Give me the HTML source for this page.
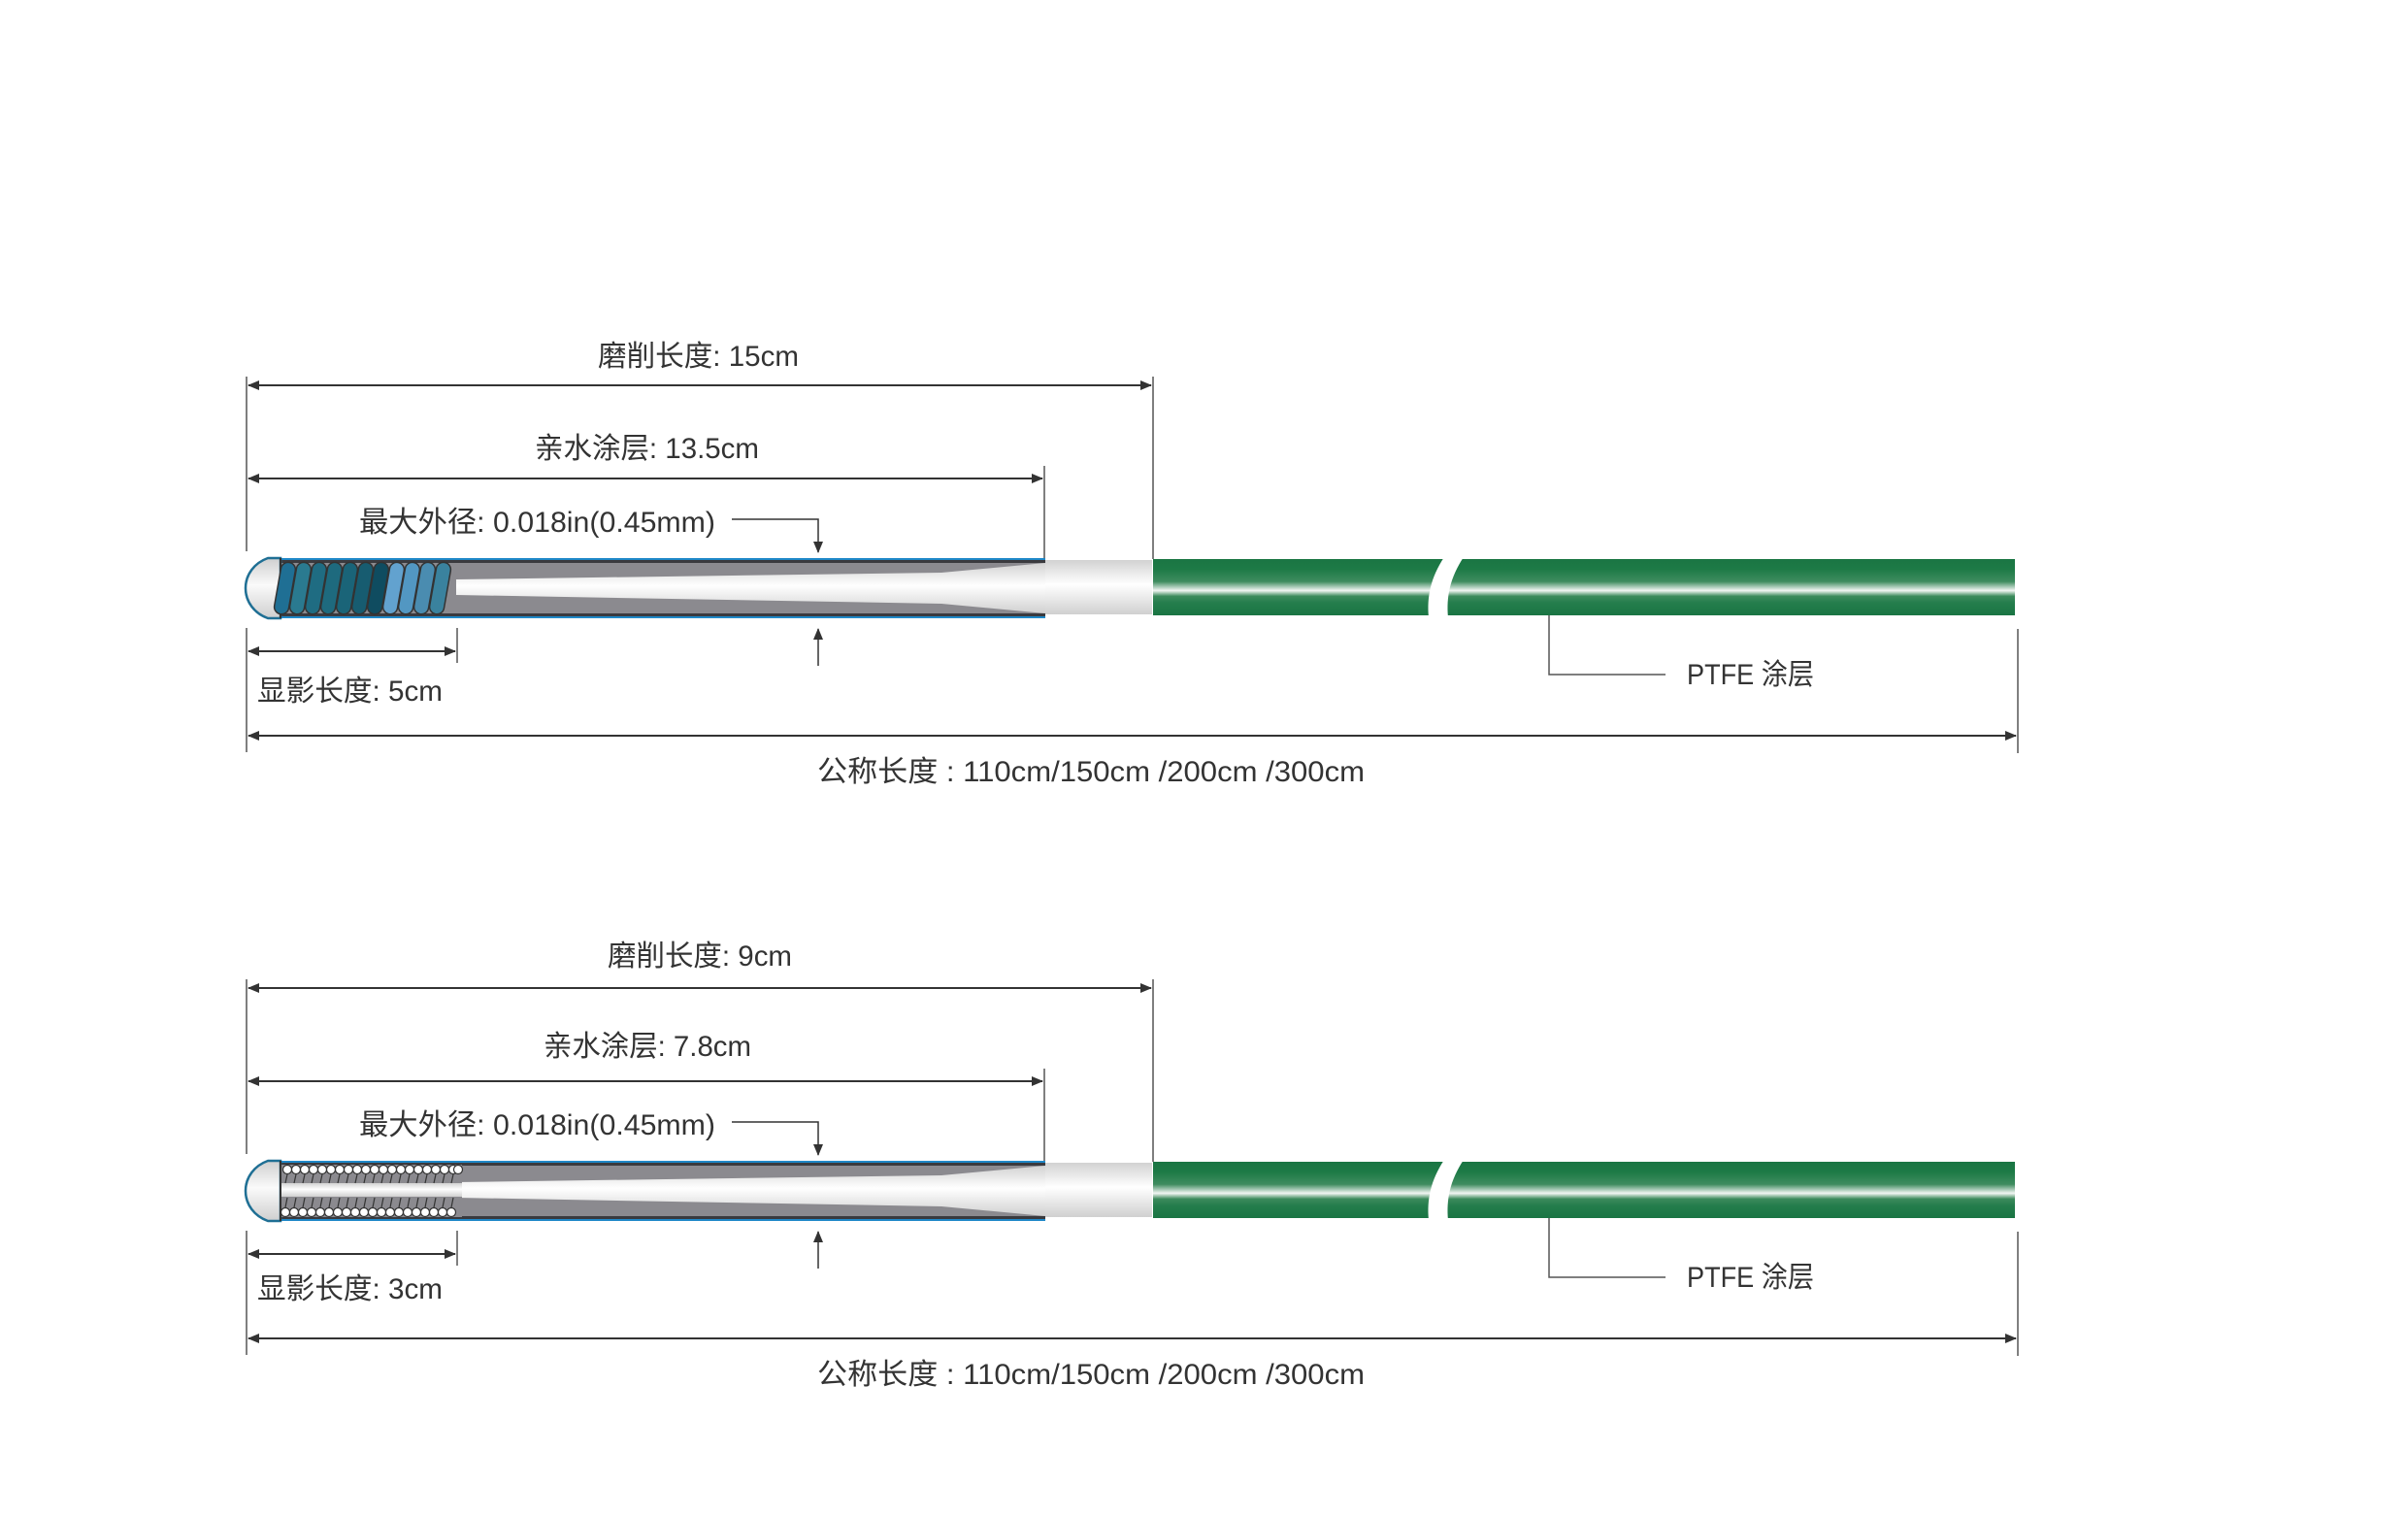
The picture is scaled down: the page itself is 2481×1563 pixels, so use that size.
<!DOCTYPE html>
<html><head><meta charset="utf-8"><style>
html,body{margin:0;padding:0;background:#fff}
svg{display:block}
text{font-family:"Liberation Sans","Noto Sans CJK SC",sans-serif;font-size:30px;fill:#333}
</style></head><body>
<svg width="2481" height="1563" viewBox="0 0 2481 1563" xmlns="http://www.w3.org/2000/svg">
<defs>
<linearGradient id="gr" x1="0" y1="0" x2="0" y2="1">
<stop offset="0" stop-color="#1a7543"/><stop offset="0.18" stop-color="#1d7a46"/>
<stop offset="0.4" stop-color="#3f8c5f"/><stop offset="0.56" stop-color="#f2f6f3"/>
<stop offset="0.66" stop-color="#3c8a5c"/><stop offset="0.78" stop-color="#247d4c"/>
<stop offset="1" stop-color="#1a7543"/></linearGradient>
<linearGradient id="wh" x1="0" y1="0" x2="0" y2="1">
<stop offset="0" stop-color="#d2d2d2"/><stop offset="0.45" stop-color="#ffffff"/>
<stop offset="1" stop-color="#d0d0d0"/></linearGradient>
<linearGradient id="cap" x1="0" y1="0" x2="0" y2="1">
<stop offset="0" stop-color="#cfcfcf"/><stop offset="0.45" stop-color="#fafafa"/>
<stop offset="1" stop-color="#cfcfcf"/></linearGradient>
<marker id="ae" markerWidth="12" markerHeight="10" refX="11" refY="5" orient="auto" markerUnits="userSpaceOnUse"><path d="M0,0 L12,5 L0,10 Z" fill="#333"/></marker>
<marker id="as" markerWidth="12" markerHeight="10" refX="1" refY="5" orient="auto" markerUnits="userSpaceOnUse"><path d="M12,0 L0,5 L12,10 Z" fill="#333"/></marker>

<g id="body">
 <!-- green tube -->
 <rect x="1188" y="576" width="888" height="58" fill="url(#gr)"/>
 <path d="M1488,574 L1508,574 C1494,595 1490,615 1492,636 L1472,636 C1470,615 1474,595 1488,574 Z" fill="#fff"/>
 <!-- white section -->
 <rect x="1070" y="577" width="117" height="56" fill="url(#wh)"/>
 <!-- gray section -->
 <rect x="289" y="575" width="788" height="62" fill="#1f88c8"/>
 <rect x="289" y="577" width="788" height="58" fill="#3a3a3e"/>
 <rect x="289" y="580" width="788" height="52" fill="#8b8a8f"/>
 <path d="M470,597 L970,590 L1077,580 L1077,632 L970,622 L470,613 Z" fill="url(#wh)"/>
 <!-- cap -->
 <path d="M289,575 L276,575 C262,580 253,592 253,606 C253,620 262,632 276,637 L289,637 Z" fill="url(#cap)" stroke="#1f6f94" stroke-width="2.5"/>
 <line x1="289" y1="575" x2="289" y2="637" stroke="#333" stroke-width="2"/>
 <!-- ext lines -->
 <line x1="254" y1="540" x2="254" y2="568" stroke="#555" stroke-width="1.5"/>
 <line x1="1076" y1="480" x2="1076" y2="575" stroke="#555" stroke-width="1.5"/>
 <line x1="1188" y1="388" x2="1188" y2="576" stroke="#555" stroke-width="1.5"/>
 <line x1="254" y1="647" x2="254" y2="775" stroke="#555" stroke-width="1.5"/>
 <line x1="471" y1="647" x2="471" y2="683" stroke="#555" stroke-width="1.5"/>
 <line x1="2079" y1="648" x2="2079" y2="776" stroke="#555" stroke-width="1.5"/>
 <line x1="254" y1="388" x2="254" y2="540" stroke="#555" stroke-width="1.5"/>
 <!-- dimension arrows -->
 <line x1="256" y1="397" x2="1186" y2="397" stroke="#333" stroke-width="2" marker-start="url(#as)" marker-end="url(#ae)"/>
 <line x1="256" y1="493" x2="1074" y2="493" stroke="#333" stroke-width="2" marker-start="url(#as)" marker-end="url(#ae)"/>
 <line x1="256" y1="671" x2="469" y2="671" stroke="#333" stroke-width="2" marker-start="url(#as)" marker-end="url(#ae)"/>
 <line x1="256" y1="758" x2="2077" y2="758" stroke="#333" stroke-width="2" marker-start="url(#as)" marker-end="url(#ae)"/>
 <!-- diameter -->
 <polyline points="754,535 843,535 843,569" fill="none" stroke="#333" stroke-width="1.5" marker-end="url(#ae)"/>
 <line x1="843" y1="686" x2="843" y2="648" stroke="#333" stroke-width="1.5" marker-end="url(#ae)"/>
 <!-- PTFE leader -->
 <polyline points="1596,634 1596,695 1716,695" fill="none" stroke="#555" stroke-width="1.5"/>
 <text x="1738" y="705" textLength="131" lengthAdjust="spacingAndGlyphs">PTFE 涂层</text>
 <text x="370" y="548" textLength="367" lengthAdjust="spacingAndGlyphs">最大外径: 0.018in(0.45mm)</text>
 <text x="842" y="805" textLength="564" lengthAdjust="spacingAndGlyphs">公称长度 : 110cm/150cm /200cm /300cm</text>
</g>
</defs>

<!-- top -->
<use href="#body"/>
<g>
 <g transform="rotate(12 0 0)"></g>
 <g>
  <rect x="286" y="579" width="15" height="54" rx="7.5" fill="#1f6f94" stroke="#333" stroke-width="1.5" transform="rotate(10 293 606)"/>
  <rect x="302" y="579" width="15" height="54" rx="7.5" fill="#2a7a90" stroke="#333" stroke-width="1.5" transform="rotate(10 309 606)"/>
  <rect x="318" y="579" width="15" height="54" rx="7.5" fill="#1f6c82" stroke="#333" stroke-width="1.5" transform="rotate(10 325 606)"/>
  <rect x="334" y="579" width="15" height="54" rx="7.5" fill="#1e6a7e" stroke="#333" stroke-width="1.5" transform="rotate(10 341 606)"/>
  <rect x="350" y="579" width="15" height="54" rx="7.5" fill="#1a6478" stroke="#333" stroke-width="1.5" transform="rotate(10 357 606)"/>
  <rect x="366" y="579" width="15" height="54" rx="7.5" fill="#175c70" stroke="#333" stroke-width="1.5" transform="rotate(10 373 606)"/>
  <rect x="382" y="579" width="15" height="54" rx="7.5" fill="#0f4c60" stroke="#333" stroke-width="1.5" transform="rotate(10 389 606)"/>
  <rect x="398" y="579" width="15" height="54" rx="7.5" fill="#62a2cf" stroke="#333" stroke-width="1.5" transform="rotate(10 405 606)"/>
  <rect x="414" y="579" width="15" height="54" rx="7.5" fill="#5297c2" stroke="#333" stroke-width="1.5" transform="rotate(10 421 606)"/>
  <rect x="430" y="579" width="15" height="54" rx="7.5" fill="#4a8cb0" stroke="#333" stroke-width="1.5" transform="rotate(10 437 606)"/>
  <rect x="446" y="579" width="15" height="54" rx="7.5" fill="#3a829e" stroke="#333" stroke-width="1.5" transform="rotate(10 453 606)"/>
 </g>
</g>
<text x="616" y="377" textLength="207" lengthAdjust="spacingAndGlyphs">磨削长度: 15cm</text>
<text x="551" y="472" textLength="231" lengthAdjust="spacingAndGlyphs">亲水涂层: 13.5cm</text>
<text x="265" y="722" textLength="191" lengthAdjust="spacingAndGlyphs">显影长度: 5cm</text>

<!-- bottom -->
<g transform="translate(0,621)">
 <use href="#body"/>
 <!-- coil of white circles -->
 <rect x="290" y="579" width="186" height="54" fill="#8b8a8f"/>
 <rect x="290" y="598" width="186" height="14" fill="url(#wh)"/>
 <g fill="#fff" stroke="#333" stroke-width="1.2">
  <circle cx="296" cy="584" r="4.5"/><circle cx="305" cy="584" r="4.5"/><circle cx="314" cy="584" r="4.5"/><circle cx="323" cy="584" r="4.5"/><circle cx="332" cy="584" r="4.5"/><circle cx="341" cy="584" r="4.5"/><circle cx="350" cy="584" r="4.5"/><circle cx="359" cy="584" r="4.5"/><circle cx="368" cy="584" r="4.5"/><circle cx="377" cy="584" r="4.5"/><circle cx="386" cy="584" r="4.5"/><circle cx="395" cy="584" r="4.5"/><circle cx="404" cy="584" r="4.5"/><circle cx="413" cy="584" r="4.5"/><circle cx="422" cy="584" r="4.5"/><circle cx="431" cy="584" r="4.5"/><circle cx="440" cy="584" r="4.5"/><circle cx="449" cy="584" r="4.5"/><circle cx="458" cy="584" r="4.5"/><circle cx="467" cy="584" r="4.5"/><circle cx="472" cy="584" r="4.5"/>
  <circle cx="294" cy="628" r="4.5"/><circle cx="303" cy="628" r="4.5"/><circle cx="312" cy="628" r="4.5"/><circle cx="321" cy="628" r="4.5"/><circle cx="330" cy="628" r="4.5"/><circle cx="339" cy="628" r="4.5"/><circle cx="348" cy="628" r="4.5"/><circle cx="357" cy="628" r="4.5"/><circle cx="366" cy="628" r="4.5"/><circle cx="375" cy="628" r="4.5"/><circle cx="384" cy="628" r="4.5"/><circle cx="393" cy="628" r="4.5"/><circle cx="402" cy="628" r="4.5"/><circle cx="411" cy="628" r="4.5"/><circle cx="420" cy="628" r="4.5"/><circle cx="429" cy="628" r="4.5"/><circle cx="438" cy="628" r="4.5"/><circle cx="447" cy="628" r="4.5"/><circle cx="456" cy="628" r="4.5"/><circle cx="465" cy="628" r="4.5"/>
 </g>
 <path d="M296,589 l-2,9 M305,589 l-2,9 M314,589 l-2,9 M323,589 l-2,9 M332,589 l-2,9 M341,589 l-2,9 M350,589 l-2,9 M359,589 l-2,9 M368,589 l-2,9 M377,589 l-2,9 M386,589 l-2,9 M395,589 l-2,9 M404,589 l-2,9 M413,589 l-2,9 M422,589 l-2,9 M431,589 l-2,9 M440,589 l-2,9 M449,589 l-2,9 M458,589 l-2,9 M467,589 l-2,9 M296,613 l-2,10 M305,613 l-2,10 M314,613 l-2,10 M323,613 l-2,10 M332,613 l-2,10 M341,613 l-2,10 M350,613 l-2,10 M359,613 l-2,10 M368,613 l-2,10 M377,613 l-2,10 M386,613 l-2,10 M395,613 l-2,10 M404,613 l-2,10 M413,613 l-2,10 M422,613 l-2,10 M431,613 l-2,10 M440,613 l-2,10 M449,613 l-2,10 M458,613 l-2,10 M467,613 l-2,10" stroke="#333" stroke-width="1.2"/>
</g>
<text x="626" y="995" textLength="190" lengthAdjust="spacingAndGlyphs">磨削长度: 9cm</text>
<text x="560" y="1088" textLength="214" lengthAdjust="spacingAndGlyphs">亲水涂层: 7.8cm</text>
<text x="265" y="1338" textLength="191" lengthAdjust="spacingAndGlyphs">显影长度: 3cm</text>
</svg>
</body></html>
